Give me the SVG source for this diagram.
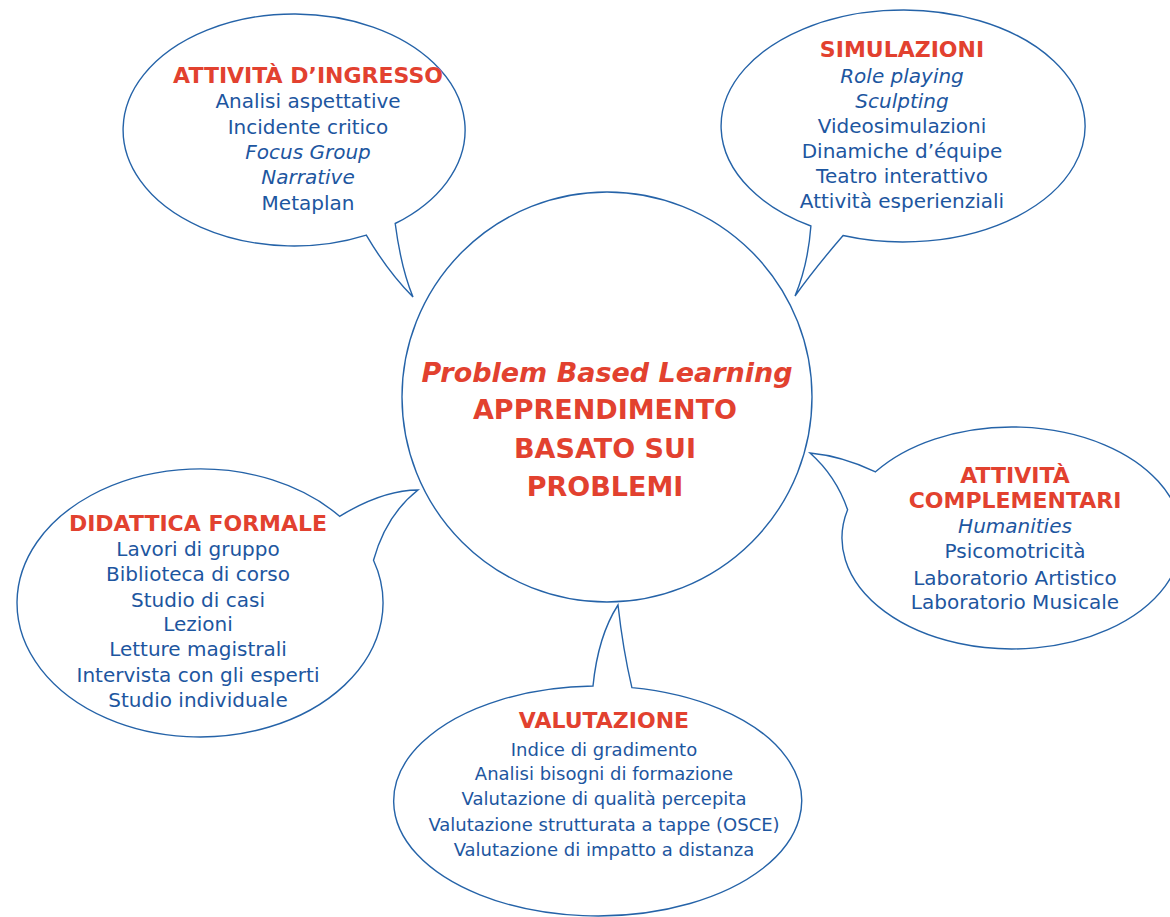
<svg xmlns="http://www.w3.org/2000/svg" width="1170" height="917" viewBox="0 0 1170 917">
<style>
.shape{fill:none;stroke:#2563a8;stroke-width:1.4}
text{font-family:"DejaVu Sans","Liberation Sans",sans-serif;text-anchor:middle}
.h{fill:#e2412f;font-weight:bold;font-size:22px}
.t{fill:#1d56a0;font-size:20px}
.s{fill:#1d56a0;font-size:18px}
.i{font-style:italic}
.c{fill:#e2412f;font-weight:bold;font-size:27px}
</style>
<rect width="1170" height="917" fill="#ffffff"/>
<g id="connectors"/>
<g id="center">
<circle class="shape" cx="607" cy="397" r="205"/>
<text class="c i" x="607" y="382">Problem Based Learning</text>
<text class="c" x="605" y="419">APPRENDIMENTO</text>
<text class="c" x="605" y="458">BASATO SUI</text>
<text class="c" x="605" y="496">PROBLEMI</text>
</g>
<g id="ingresso">
<path class="shape" d="M366.3,235.1 A171 116 0 1 1 395.2,223.5 Q401,268 413,297 Q388,272 366.3,235.1 Z"/>
<text class="h" x="308" y="83">ATTIVITÀ D’INGRESSO</text>
<text class="t" x="308" y="108">Analisi aspettative</text>
<text class="t" x="308" y="134">Incidente critico</text>
<text class="t i" x="308" y="159">Focus Group</text>
<text class="t i" x="308" y="184">Narrative</text>
<text class="t" x="308" y="210">Metaplan</text>
</g>
<g id="simulazioni">
<path class="shape" d="M810.9,226 A182 116 0 1 1 843.1,235.5 Q815,268 795,296 Q808,265 810.9,226 Z"/>
<text class="h" x="902" y="57">SIMULAZIONI</text>
<text class="t i" x="902" y="83">Role playing</text>
<text class="t i" x="902" y="108">Sculpting</text>
<text class="t" x="902" y="133">Videosimulazioni</text>
<text class="t" x="902" y="158">Dinamiche d’équipe</text>
<text class="t" x="902" y="183">Teatro interattivo</text>
<text class="t" x="902" y="208">Attività esperienziali</text>
</g>
<g id="complementari">
<path class="shape" d="M875.5,471.8 A170 111 0 1 1 847.6,509.7 Q836,476 810,453 Q842,456 875.5,471.8 Z"/>
<text class="h" x="1015" y="483">ATTIVITÀ</text>
<text class="h" x="1015" y="508">COMPLEMENTARI</text>
<text class="t i" x="1015" y="533">Humanities</text>
<text class="t" x="1015" y="558">Psicomotricità</text>
<text class="t" x="1015" y="585">Laboratorio Artistico</text>
<text class="t" x="1015" y="609">Laboratorio Musicale</text>
</g>
<g id="didattica">
<path class="shape" d="M373.5,560.3 A183 134 0 1 1 339.6,516.3 Q383,490 418,490 Q386,515 373.5,560.3 Z"/>
<text class="h" x="198" y="531">DIDATTICA FORMALE</text>
<text class="t" x="198" y="556">Lavori di gruppo</text>
<text class="t" x="198" y="581">Biblioteca di corso</text>
<text class="t" x="198" y="607">Studio di casi</text>
<text class="t" x="198" y="631">Lezioni</text>
<text class="t" x="198" y="656">Letture magistrali</text>
<text class="t" x="198" y="682">Intervista con gli esperti</text>
<text class="t" x="198" y="707">Studio individuale</text>
</g>
<g id="valutazione">
<path class="shape" d="M631.9,687.6 A204 115 0 1 1 593,686 Q598,636 618,605 Q623,650 631.9,687.6 Z"/>
<text class="h" x="604" y="728">VALUTAZIONE</text>
<text class="s" x="604" y="756">Indice di gradimento</text>
<text class="s" x="604" y="780">Analisi bisogni di formazione</text>
<text class="s" x="604" y="805">Valutazione di qualità percepita</text>
<text class="s" x="604" y="831">Valutazione strutturata a tappe (OSCE)</text>
<text class="s" x="604" y="856">Valutazione di impatto a distanza</text>
</g>
</svg>
